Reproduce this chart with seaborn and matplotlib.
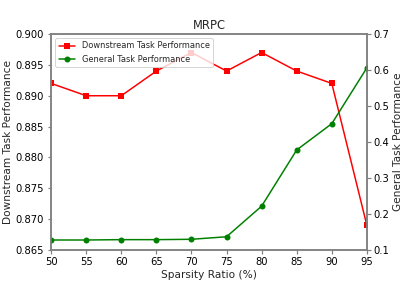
import numpy as np
import pandas as pd
import matplotlib
matplotlib.use("Agg")
import matplotlib.pyplot as plt
import seaborn as sns

sparsity = [50, 55, 60, 65, 70, 75, 80, 85, 90, 95]
downstream = [0.892, 0.890, 0.890, 0.894, 0.897, 0.894, 0.897, 0.894, 0.892, 0.869]
general = [0.128, 0.128, 0.129, 0.129, 0.130, 0.137, 0.222, 0.378, 0.451, 0.606]
left_ticks = [0.865, 0.870, 0.875, 0.880, 0.885, 0.890, 0.895, 0.900]
right_ticks = [0.1, 0.2, 0.3, 0.4, 0.5, 0.6, 0.7]

df = pd.DataFrame({"sparsity": sparsity, "downstream": downstream, "general": general})

sns.set_style("ticks")
plt.rcParams["font.family"] = ["DejaVu Sans"]

# drawn at 72 dpi so that point sizes map 1:1 to pixels
fig, ax1 = plt.subplots(figsize=(409 / 72, 281 / 72), dpi=72)
ax2 = ax1.twinx()

sns.lineplot(data=df, x="sparsity", y="downstream", ax=ax1, color="red", marker="s",
             markersize=6, markeredgewidth=0, linewidth=1.5,
             label="Downstream Task Performance", legend=False)
sns.lineplot(data=df, x="sparsity", y="general", ax=ax2, color="green", marker="o",
             markersize=6, markeredgewidth=0, linewidth=1.5,
             label="General Task Performance", legend=False)

ax1.set_xlim(50, 95)
ax1.set_ylim(0.865, 0.900)
ax2.set_ylim(0.1, 0.7)
ax1.set_xticks(sparsity)
ax1.set_yticks(left_ticks)
ax1.set_yticklabels([f"{v:.3f}" for v in left_ticks])
ax2.set_yticks(right_ticks)
ax2.set_yticklabels([f"{v:.1f}" for v in right_ticks])

ax1.set_xlabel("Sparsity Ratio (%)", fontsize=10.5, labelpad=3)
ax1.set_ylabel("Downstream Task Performance", fontsize=10.5, labelpad=3)
ax2.set_ylabel("General Task Performance", fontsize=10.5, labelpad=3)
ax1.set_title("MRPC", fontsize=11.5, pad=5)

for ax in (ax1, ax2):
    ax.tick_params(labelsize=10, colors="gray", labelcolor="black", length=3.5, width=1.2)
    for s in ax.spines.values():
        s.set_color("gray")
        s.set_linewidth(1.5)

h1, l1 = ax1.get_legend_handles_labels()
h2, l2 = ax2.get_legend_handles_labels()
ax2.legend(h1 + h2, l1 + l2, loc="upper left", fontsize=8.3, frameon=True)

fig.subplots_adjust(left=0.125, right=0.897, top=0.879, bottom=0.11)
fig.savefig("out.png", dpi=72)
